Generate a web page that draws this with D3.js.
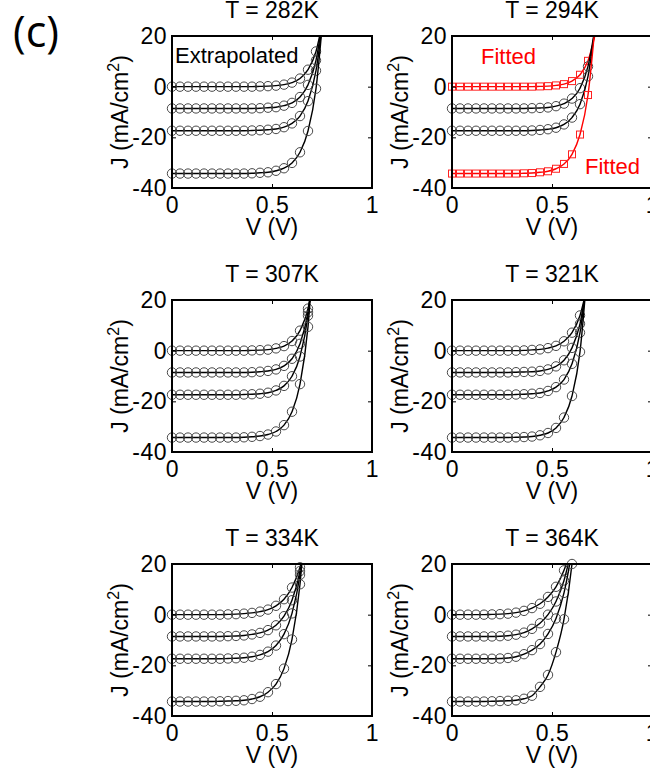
<!DOCTYPE html>
<html>
<head>
<meta charset="utf-8">
<script src="https://cdn.jsdelivr.net/npm/d3@7"></script>
<style>
  body { margin: 0; background: #fff; }
  svg text { font-family: "Liberation Sans", Arial, sans-serif; }
</style>
</head>
<body>
<div id="chart"></div>
<script>
// voltage sweep (V), shared by every curve
const voltage = [0, 0.04, 0.08, 0.12, 0.16, 0.2, 0.24, 0.28, 0.32, 0.36, 0.4, 0.44, 0.48, 0.52, 0.56, 0.6, 0.64, 0.68, 0.72, 0.76];

const temperatures = ["282K", "294K", "307K", "321K", "334K", "364K"];
const xTicks = [0, 0.5, 1];
const yTicks = [-40, -20, 0, 20];

// J (mA/cm2) for the four illumination levels of each temperature
const j282 = [
  [0, 0, 0, 0, 0, 0, 0, 0, 0, 0, 0, 0.1, 0.2, 0.4, 0.8, 1.6, 3.2, 6.7, 13.9, 28.8],
  [-8.6, -8.6, -8.6, -8.6, -8.6, -8.6, -8.6, -8.6, -8.6, -8.6, -8.6, -8.5, -8.3, -8.1, -7.5, -6.4, -4.1, 0.7, 10.4, 30.2],
  [-17.4, -17.4, -17.4, -17.4, -17.4, -17.4, -17.4, -17.4, -17.4, -17.4, -17.3, -17.2, -17.0, -16.7, -16.0, -14.5, -11.6, -5.7, 6.3, 30.4],
  [-34.3, -34.3, -34.3, -34.3, -34.3, -34.3, -34.3, -34.3, -34.3, -34.3, -34.2, -34.0, -33.8, -33.2, -32.2, -30.1, -25.9, -17.5, -0.8, 32.5]
];
const j294 = [
  [0, 0, 0, 0, 0, 0, 0, 0, 0, 0, 0, 0.1, 0.2, 0.5, 1.0, 2.2, 4.7, 10.2, 22.0],
  [-8.6, -8.6, -8.6, -8.6, -8.6, -8.6, -8.6, -8.6, -8.6, -8.6, -8.5, -8.4, -8.2, -7.7, -6.7, -4.7, -0.6, 8.0, 25.7],
  [-17.4, -17.4, -17.4, -17.4, -17.4, -17.4, -17.4, -17.4, -17.4, -17.4, -17.3, -17.1, -16.8, -16.2, -14.9, -12.2, -6.9, 4.1, 26.5],
  [-34.3, -34.3, -34.3, -34.3, -34.3, -34.3, -34.3, -34.3, -34.3, -34.2, -34.1, -33.8, -33.4, -32.4, -30.5, -26.7, -18.9, -3.3, 28.2]
];
const j307 = [
  [0, 0, 0, 0, 0, 0, 0, 0, 0, 0, 0.1, 0.2, 0.4, 0.9, 1.8, 3.8, 7.9, 16.6, 34.9],
  [-8.6, -8.6, -8.6, -8.6, -8.6, -8.6, -8.6, -8.6, -8.6, -8.6, -8.5, -8.3, -8.0, -7.4, -6.0, -3.2, 2.7, 15.2, 41.2],
  [-17.4, -17.4, -17.4, -17.4, -17.4, -17.4, -17.4, -17.4, -17.4, -17.3, -17.2, -17.0, -16.6, -15.7, -13.9, -10.1, -2.3, 13.8, 47.1],
  [-34.3, -34.3, -34.3, -34.3, -34.3, -34.3, -34.3, -34.3, -34.3, -34.2, -34.0, -33.7, -33.1, -31.9, -29.4, -24.1, -13.2, 9.4, 56.1]
];
const j321 = [
  [0, 0, 0, 0, 0, 0, 0, 0, 0, 0.1, 0.3, 0.5, 1.0, 1.9, 3.7, 7.1, 13.9, 27.0],
  [-8.6, -8.6, -8.6, -8.6, -8.6, -8.6, -8.6, -8.6, -8.5, -8.4, -8.3, -8.0, -7.4, -6.2, -3.8, 1.1, 10.6, 29.7],
  [-17.4, -17.4, -17.4, -17.4, -17.4, -17.4, -17.4, -17.4, -17.3, -17.2, -17.0, -16.7, -15.9, -14.4, -11.4, -5.2, 7.1, 32.1],
  [-34.3, -34.3, -34.3, -34.3, -34.3, -34.3, -34.3, -34.3, -34.2, -34.1, -33.9, -33.4, -32.5, -30.5, -26.4, -17.9, -0.5, 35.8]
];
const j334 = [
  [0, 0, 0, 0, 0, 0, 0, 0.1, 0.2, 0.4, 0.7, 1.2, 2.0, 3.5, 6.1, 10.7, 18.7, 32.5],
  [-8.6, -8.6, -8.6, -8.6, -8.6, -8.6, -8.6, -8.5, -8.4, -8.2, -7.8, -7.2, -6.1, -4.2, -0.6, 5.7, 17.2, 37.9],
  [-17.4, -17.4, -17.4, -17.4, -17.4, -17.4, -17.4, -17.3, -17.2, -17.0, -16.6, -15.9, -14.6, -12.2, -7.7, 0.5, 15.7, 43.8],
  [-34.3, -34.3, -34.3, -34.3, -34.3, -34.3, -34.2, -34.1, -34.0, -33.8, -33.3, -32.4, -30.6, -27.4, -21.3, -9.8, 12.0, 53.1]
];
const j364 = [
  [0, 0, 0, 0, 0, 0.1, 0.2, 0.4, 0.8, 1.5, 2.6, 4.3, 7.0, 11.0, 17.5, 27.3],
  [-8.6, -8.6, -8.6, -8.6, -8.6, -8.6, -8.5, -8.3, -7.9, -7.1, -5.6, -3.4, 0.0, 5.2, 13.5, 26.7],
  [-17.4, -17.4, -17.4, -17.4, -17.4, -17.4, -17.3, -17.1, -16.6, -15.6, -14.0, -11.6, -7.6, -1.5, 8.6, 24.9],
  [-34.3, -34.3, -34.3, -34.3, -34.3, -34.2, -34.1, -34.0, -33.8, -33.2, -32.0, -28.5, -23.8, -14.8, -1.8, 20.0, 56.4]
];

const panelData = [j282, j294, j307, j321, j334, j364];
// curves shown as red "Fitted" squares (only in the 294K panel)
const fittedCurves = [[], [0, 3], [], [], [], []];

const w = 650;
const h = 771;
const colX = [172, 452];
const rowY = [36, 300, 564];
const pw = 200;
const ph = 152;

const svg = d3.select("#chart")
              .append("svg")
              .attr("width", w)
              .attr("height", h);

svg.append("text")
   .attr("x", 13)
   .attr("y", 47)
   .attr("font-size", 43)
   .style("font-family", "'Open Sans', 'Noto Sans', sans-serif")
   .text("(c)");

const xScale = d3.scaleLinear().domain([0, 1]).range([0, pw]);
const yScale = d3.scaleLinear().domain([-40, 20]).range([ph, 0]);

const line = d3.line()
               .x(d => xScale(d.v))
               .y(d => yScale(d.j))
               .curve(d3.curveMonotoneX);

panelData.forEach((curves, i) => {
  const col = i % 2;
  const row = Math.floor(i / 2);
  const g = svg.append("g")
               .attr("transform", `translate(${colX[col]}, ${rowY[row]})`);

  g.append("clipPath")
   .attr("id", "clip" + i)
   .append("rect")
   .attr("width", pw)
   .attr("height", ph);

  curves.forEach((vals, c) => {
    const pts = vals.map((j, k) => ({ v: voltage[k], j: j }));
    const red = fittedCurves[i].includes(c);
    const color = red ? "#ff0000" : "#000";

    g.append("path")
     .datum(pts)
     .attr("clip-path", `url(#clip${i})`)
     .attr("fill", "none")
     .attr("stroke", color)
     .attr("stroke-width", 1.4)
     .attr("d", line);

    const shown = pts.filter(d => d.j <= 21);
    if (red) {
      g.selectAll(null)
       .data(shown)
       .enter()
       .append("rect")
       .attr("x", d => xScale(d.v) - 3.5)
       .attr("y", d => yScale(d.j) - 3.5)
       .attr("width", 7)
       .attr("height", 7)
       .attr("fill", "none")
       .attr("stroke", "#ff2020")
       .attr("stroke-width", 1);
    } else {
      g.selectAll(null)
       .data(shown)
       .enter()
       .append("circle")
       .attr("cx", d => xScale(d.v))
       .attr("cy", d => yScale(d.j))
       .attr("r", 4.7)
       .attr("fill", "none")
       .attr("stroke", "#4a4a4a")
       .attr("stroke-width", 1);
    }
  });

  const fontAxis = sel => sel.attr("font-size", 23)
                             .attr("font-family", "'Liberation Sans', Arial, sans-serif")
                             .attr("letter-spacing", 0.5)
                             .call(a => a.select(".domain").remove());

  g.append("g")
   .attr("transform", `translate(0, ${ph})`)
   .call(d3.axisBottom(xScale).tickValues(xTicks).tickSizeInner(-4).tickSizeOuter(0)
           .tickPadding(9).tickFormat(d => String(d)))
   .call(fontAxis);

  g.append("g")
   .call(d3.axisLeft(yScale).tickValues(yTicks).tickSizeInner(-4).tickSizeOuter(0)
           .tickPadding(5).tickFormat(d => String(d)))
   .call(fontAxis);

  g.append("g")
   .call(d3.axisTop(xScale).tickValues(xTicks).tickSizeInner(-4).tickSizeOuter(0).tickFormat(""))
   .call(fontAxis);

  g.append("g")
   .attr("transform", `translate(${pw}, 0)`)
   .call(d3.axisRight(yScale).tickValues(yTicks).tickSizeInner(-4).tickSizeOuter(0).tickFormat(""))
   .call(fontAxis);

  g.append("rect")
   .attr("width", pw)
   .attr("height", ph)
   .attr("fill", "none")
   .attr("stroke", "#000")
   .attr("stroke-width", 2);

  g.append("text")
   .attr("x", pw / 2)
   .attr("y", -18)
   .attr("text-anchor", "middle")
   .attr("font-size", 23)
   .text("T = " + temperatures[i]);

  g.append("text")
   .attr("x", pw / 2)
   .attr("y", ph + 47)
   .attr("text-anchor", "middle")
   .attr("font-size", 23)
   .text("V (V)");

  const yl = g.append("text")
              .attr("transform", `translate(-44, ${ph / 2}) rotate(-90)`)
              .attr("text-anchor", "middle")
              .attr("font-size", 23);
  yl.append("tspan").text("J (mA/cm");
  yl.append("tspan").attr("dy", -9).attr("font-size", 16).text("2");
  yl.append("tspan").attr("dy", 9).text(")");

  if (i === 0) {
    g.append("text")
     .attr("x", 3)
     .attr("y", 27)
     .attr("font-size", 22)
     .text("Extrapolated");
  }
  if (i === 1) {
    g.append("text")
     .attr("x", 29)
     .attr("y", 28)
     .attr("font-size", 22)
     .attr("fill", "#ff0000")
     .text("Fitted");
    g.append("text")
     .attr("x", 133)
     .attr("y", 138)
     .attr("font-size", 22)
     .attr("fill", "#ff0000")
     .text("Fitted");
  }
});
</script>
</body>
</html>
